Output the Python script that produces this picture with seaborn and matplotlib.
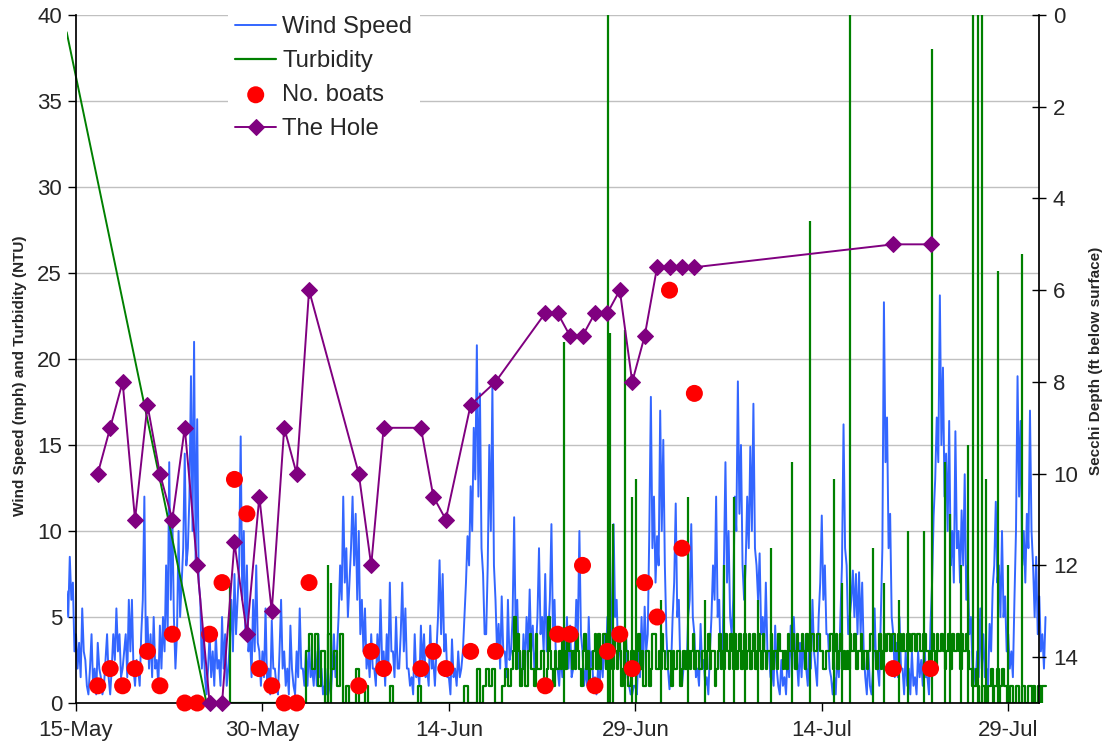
import pandas as pd
import matplotlib
matplotlib.use("Agg")
import matplotlib.pyplot as plt
import matplotlib.dates as mdates
import seaborn as sns

# sampling days at the hole (boat counts + Secchi depth), read around 6 pm
sample_dates = ['2008-05-16', '2008-05-17', '2008-05-18', '2008-05-19', '2008-05-20', '2008-05-21',
                '2008-05-22', '2008-05-23', '2008-05-24', '2008-05-25', '2008-05-26', '2008-05-27',
                '2008-05-28', '2008-05-29', '2008-05-30', '2008-05-31', '2008-06-01', '2008-06-02',
                '2008-06-06', '2008-06-07', '2008-06-08', '2008-06-11', '2008-06-12', '2008-06-13',
                '2008-06-15', '2008-06-17', '2008-06-21', '2008-06-22', '2008-06-23', '2008-06-24',
                '2008-06-25', '2008-06-26', '2008-06-27', '2008-06-28', '2008-06-29', '2008-06-30',
                '2008-07-01', '2008-07-02', '2008-07-03', '2008-07-19', '2008-07-22']
boats = [1, 2, 1, 2, 3, 1, 4, 0, 0, 4, 7, 13, 11, 2, 1, 0, 0, 7,
         1, 3, 2, 2, 3, 2, 3, 3, 1, 4, 4, 8, 1, 3, 4, 2, 7, 5, 24, 9, 18, 2, 2]
hole_depth = [10, 9, 8, 11, 8.5, 10, 11, 9, 12, 15, 15, 11.5, 13.5, 10.5, 13, 9, 10, 6,
              10, 12, 9, 9, 10.5, 11, 8.5, 8, 6.5, 6.5, 7, 7, 6.5, 6.5, 6, 8, 7, 5.5, 5.5, 5.5, 5.5, 5, 5]

# wind speed (mph), every 3 h from 14-May 06:00 (one row per day)
wind_mph = [
    6.5, 5, 8.5, 6, 7, 3,
    4, 2, 3.5, 1.5, 5.5, 3, 2.5, 1,
    0.5, 2, 4, 1, 2, 0.5, 3.5, 2,
    1.5, 0.5, 1, 2.5, 4, 1.5, 0.5, 2,
    4, 2.5, 5.5, 3, 4, 1.5, 2, 3,
    4, 1.5, 6, 3, 6, 2, 1, 2.5,
    2, 1, 4, 6, 12, 3, 5, 2,
    4, 1.5, 5, 2, 2.5, 1, 4.5, 2,
    5, 3, 8, 4, 14, 6, 11, 5,
    2, 4, 10, 5, 7, 9, 14.5, 8,
    9, 12, 19, 10, 21, 8, 16.5, 7,
    6, 2, 4, 1.5, 0.5, 2, 4, 1.5,
    3, 1, 4, 2, 2.5, 1, 5, 2,
    4, 1, 2, 3.5, 6, 3, 7.5, 4,
    6, 8, 15.5, 6, 10, 4, 8, 3,
    4, 1.5, 6, 3, 8, 3.5, 3, 1,
    3, 1.5, 5.5, 1, 2, 0.5, 4.8, 2,
    2, 1, 0.5, 3, 6, 2, 3, 1,
    2, 0.5, 4.5, 2, 1, 0.5, 3, 1.5,
    5.5, 2, 2, 1, 3, 1, 3.5, 1.5,
    2, 1, 3, 1, 4, 1.5, 2, 0.5,
    1, 0.5, 2, 1, 0.5, 2, 4, 1.5,
    3, 5, 8, 6, 12, 7, 9, 5,
    7, 9, 12, 8, 11, 6, 10, 4,
    6, 3, 5.5, 2, 3, 1.5, 4, 2,
    2, 1, 4, 2, 6, 2.5, 3, 1,
    4, 2, 7, 3, 3, 1.5, 5, 2,
    2, 4, 7, 3, 5.5, 2, 2, 1,
    1.5, 0.5, 4, 1.5, 2, 1, 4.5, 2,
    4, 1.5, 2, 1, 4.5, 2, 2.5, 1,
    3, 5, 8.3, 4, 7.5, 3, 4, 1.5,
    1.5, 0.5, 3.7, 1.5, 2, 1, 3, 1.5,
    2, 3, 5, 7, 9.7, 8, 12.6, 10,
    16, 13, 20.8, 12, 18, 9, 7.5, 4,
    4, 8, 15, 10, 18.4, 8, 6, 3,
    4.6, 2, 6.2, 3, 3, 1.5, 6, 2.5,
    3, 5, 10.8, 4, 6, 2, 2, 1,
    4, 2, 5, 3, 6.6, 3, 4.5, 2,
    3, 5, 9, 4, 5, 3, 7.5, 3,
    4, 6, 10.4, 4, 6, 2, 2, 1,
    3, 1.5, 4, 2, 5, 2, 4.5, 1.5,
    2, 3, 6, 4, 10, 4, 3, 1,
    2, 1, 5, 2, 3, 1, 1.5, 0.5,
    2, 1, 3, 1.5, 4, 2, 5, 2,
    3, 6, 10.4, 5, 6, 2.5, 4, 1.5,
    2, 1, 4, 1.5, 1, 0.5, 0.5, 1,
    1, 0.5, 3, 1.5, 5, 2, 5.6, 3,
    4, 10, 17.8, 9, 12, 7, 9.7, 8,
    17, 10, 15.3, 8, 4, 2, 0.8, 2,
    5, 7, 11.6, 5, 6, 2, 1, 2,
    3, 2, 5, 6, 10.4, 5, 4, 1.5,
    2, 1, 4.6, 2, 2.5, 1, 1.5, 0.5,
    3, 5, 8, 6, 12, 5, 6, 2,
    2, 8, 14, 7, 10, 5, 4, 6,
    12, 10, 18.7, 11, 15, 8, 6, 8,
    12, 9, 14.9, 10, 17.4, 9, 8, 6,
    8.7, 4, 5, 3, 7, 3, 3, 1.5,
    2, 1, 4.5, 2, 1, 0.5, 2.5, 1,
    1.5, 0.5, 3, 1.5, 4.5, 2, 5, 2.5,
    2.5, 1, 3.5, 1.5, 4, 2, 2, 1,
    4, 2, 6, 3, 2, 1, 5, 7,
    10.9, 6, 8, 4, 4, 2, 1.5, 0.5,
    1.5, 0.5, 3, 1.5, 5, 8, 16.2, 9,
    8, 4, 5, 6, 7.7, 5, 7.5, 4,
    7.6, 4, 7, 3, 1.5, 0.5, 3, 1,
    0.5, 2, 5.5, 2, 2, 1, 5, 9,
    23.3, 14, 16.6, 9, 11, 5, 4, 1.5,
    3.5, 1.5, 5, 2, 2, 0.5, 3, 1,
    2, 0.5, 3, 1, 1.5, 0.5, 3, 1.5,
    2.5, 1, 4, 1.5, 1.5, 0.5, 4.6, 7,
    10.9, 13, 16.6, 14, 23.7, 15, 19.5, 12,
    14.5, 10, 16.4, 8, 10, 7, 15.8, 9,
    10, 7, 11.2, 8, 13.3, 6, 8, 4,
    5, 2, 2, 1, 3, 1.5, 5.5, 2,
    4, 1.5, 2, 1, 4.6, 3, 6.7, 8,
    11.7, 7, 8, 5, 10, 5, 6.2, 3,
    4, 2, 3, 1.5, 6, 10, 19, 12,
    16.4, 8, 10, 7, 11, 9, 17, 10,
    8, 5, 8.5, 4, 6.2, 3, 4, 2,
    5]

# turbidity (NTU): first reading, then the logger
turb_first = [39, 0]
# every 6 h from 25-May 12:00 to 18-Jun 18:00
turb_early = [
    0, 0,
    0, 0, 0, 0,  0, 0, 0, 0,  0, 0, 0, 0,  0, 0, 0, 0,  0, 0, 0, 0,  0, 0, 0, 0,  0, 0, 0, 0,
    0, 0, 3, 4,  2, 4, 1, 3,  0, 4, 2, 3,  1, 4, 0, 1,  0, 0, 2, 0,  0, 1, 0, 0,
    0, 0, 0, 0,  0, 1, 0, 0,  0, 0, 0, 0,  0, 0, 1, 0,  0, 0, 0, 0,  0, 0, 0, 0,
    0, 0, 0, 0,  0, 1, 0, 0,  0, 2, 0, 1,  2, 1, 2, 0,  0, 1, 2, 1]
# every 3 h from 19-Jun 00:00 (one row per day)
turb_late = [
    2, 3, 5, 2, 4, 3, 1, 2,
    3, 1, 1, 3, 4, 2, 2, 1,
    4, 2, 2, 3, 3, 1, 1, 2,
    5, 3, 2, 1, 3, 2, 2, 3,
    2, 4, 3, 2, 4, 3, 3, 2,
    3, 2, 4, 3, 2, 1, 3, 4,
    2, 3, 1, 2, 2, 3, 4, 2,
    4, 2, 3, 4, 4, 2, 3, 4,
    3, 2, 4, 3, 2, 4, 3, 1,
    2, 4, 3, 1, 1, 3, 3, 2,
    2, 3, 4, 2, 3, 1, 1, 3,
    3, 1, 2, 4, 4, 2, 2, 3,
    2, 4, 3, 2, 2, 3, 3, 1,
    3, 2, 2, 3, 3, 1, 2, 3,
    2, 3, 3, 2, 3, 4, 2, 3,
    3, 2, 2, 3, 3, 2, 3, 4,
    2, 3, 3, 1, 2, 3, 4, 2,
    3, 2, 4, 3, 2, 4, 3, 2,
    4, 2, 3, 4, 2, 3, 4, 2,
    3, 4, 2, 3, 4, 2, 3, 4,
    3, 2, 4, 3, 2, 3, 3, 4,
    2, 3, 3, 2, 4, 3, 3, 2,
    3, 2, 4, 3, 3, 4, 3, 2,
    4, 3, 3, 4, 3, 2, 4, 3,
    3, 4, 4, 3, 3, 4, 4, 3,
    3, 2, 2, 3, 3, 4, 4, 2,
    3, 4, 2, 3, 4, 2, 3, 2,
    3, 2, 4, 3, 3, 4, 2, 3,
    3, 4, 2, 3, 3, 2, 3, 4,
    4, 3, 3, 2, 3, 4, 2, 3,
    4, 3, 4, 4, 3, 4, 4, 3,
    3, 4, 4, 3, 4, 3, 3, 4,
    4, 3, 4, 4, 3, 4, 4, 3,
    3, 4, 4, 3, 3, 2, 3, 4,
    3, 2, 4, 3, 3, 4, 3, 2,
    3, 4, 3, 2, 4, 3, 3, 4,
    3, 2, 4, 3, 3, 4, 3, 2,
    2, 1, 1, 2, 1, 0, 0, 1,
    1, 0, 0, 1, 1, 2, 0, 1,
    1, 2, 0, 1, 2, 1, 1, 0,
    0, 1, 1, 0, 0, 1, 1, 0,
    0, 1, 1, 0, 0, 1, 1, 0,
    1, 0, 0, 1, 1, 0, 1, 1,
    1]
# short turbidity spikes (days after 15-May, NTU)
spike_day = [12.4, 20.3, 20.5, 39.26, 42.8, 42.95, 43.2, 44.2, 44.7, 45.05, 47.1, 49.2, 50.6,
             52.1, 52.9, 53.8, 54.9, 55.9, 57.6, 59.05, 60.95, 61.6, 62.27, 64.1, 65.0, 66.2,
             66.9, 68.2, 68.87, 69.9, 70.3, 71.2, 71.8, 72.16, 72.57, 72.89, 73.2, 74.18, 75.0, 76.1]
spike_ntu = [7, 8, 7, 21, 42, 21.5, 10.4, 21.7, 12, 13, 6, 12, 6,
             8, 12, 8, 6, 9, 14, 28, 13, 7, 45, 9, 7, 6,
             10, 10, 38, 14, 11, 8, 15, 45, 45, 45, 13, 25.1, 8, 26.1]

t0 = pd.Timestamp('2008-05-15')
day = pd.Timedelta(days=1)
wind = pd.DataFrame({'time': pd.date_range('2008-05-14 06:00', periods=len(wind_mph), freq='3h'),
                     'mph': wind_mph})
turb = pd.concat([
    pd.DataFrame({'time': pd.date_range('2008-05-25 12:00', periods=len(turb_early), freq='6h'),
                  'ntu': turb_early}),
    pd.DataFrame({'time': pd.date_range('2008-06-19 00:00', periods=len(turb_late), freq='3h'),
                  'ntu': turb_late})], ignore_index=True)
turb0 = pd.DataFrame({'time': [pd.Timestamp('2008-05-14 06:00'), pd.Timestamp('2008-05-25 12:00')],
                      'ntu': turb_first})
samples = pd.DataFrame({'time': pd.to_datetime(sample_dates) + pd.Timedelta(hours=18),
                        'boats': boats, 'hole': hole_depth})
spike_time = t0 + pd.to_timedelta(spike_day, unit='D')

sns.set_theme(style="white")
plt.rcParams['font.family'] = ['Liberation Sans', 'DejaVu Sans']

fig = plt.figure(figsize=(11.05, 7.46), dpi=100)
ax = fig.add_axes([66.5 / 1105, 1 - 703 / 746, 980.5 / 1105, 688 / 746])
x_lo, x_hi = t0 - 0.764 * day, t0 + 78.12 * day
x_end = t0 + 77.47 * day

ax.hlines(range(5, 45, 5), t0, x_end, color='#c0c0c0', lw=1, zorder=0)

blue, green = '#3366ff', '#008000'
sns.lineplot(data=wind, x='time', y='mph', ax=ax, color=blue, lw=1.4, label='Wind Speed')
sns.lineplot(data=turb0, x='time', y='ntu', ax=ax, color=green, lw=1.4)
sns.lineplot(data=turb, x='time', y='ntu', ax=ax, color=green, lw=1.6,
             drawstyle='steps-post', label='Turbidity')
ax.vlines(spike_time, 0, spike_ntu, color=green, lw=1.6)
sns.scatterplot(data=samples, x='time', y='boats', ax=ax, color='#ff0000', s=150,
                edgecolor='none', label='No. boats', zorder=5, clip_on=False)

ax.set_xlim(x_lo, x_hi)
ax.set_ylim(0, 40)
ax.set_yticks(range(0, 45, 5))
ax.set_xticks([t0 + 15 * k * day for k in range(6)])
ax.xaxis.set_major_formatter(mdates.DateFormatter('%d-%b'))
ax.set_xlabel('')
ax.set_ylabel('Wind Speed (mph) and Turbidity (NTU)', fontsize=11, fontweight='bold')
ax.yaxis.set_label_coords(-0.0405, 0.475)
for s in ['top', 'right']:
    ax.spines[s].set_visible(False)
ax.spines['left'].set_position(('data', mdates.date2num(t0)))
ax.spines['bottom'].set_bounds(mdates.date2num(t0), mdates.date2num(x_end))
for s in ['left', 'bottom']:
    ax.spines[s].set_color('black')
ax.tick_params(axis='y', left=True, direction='out', length=6, width=1, pad=4, labelsize=16, color='black')
ax.tick_params(axis='x', bottom=True, direction='out', length=6, width=1, pad=6, labelsize=16, color='black')

ax2 = ax.twinx()
sns.lineplot(data=samples, x='time', y='hole', ax=ax2, color='#800080', lw=1.4, marker='D',
             markersize=8, markeredgecolor='#800080', label='The Hole', clip_on=False)
ax2.set_ylim(15, 0)
ax2.set_yticks(range(0, 16, 2))
ax2.set_ylabel('Secchi Depth (ft below surface)', fontsize=11, fontweight='bold')
ax2.yaxis.set_label_coords(1.043, 0.497)
for s in ['top', 'left', 'bottom']:
    ax2.spines[s].set_visible(False)
ax2.spines['right'].set_position(('data', mdates.date2num(x_end)))
ax2.spines['right'].set_color('black')
ax2.tick_params(axis='y', right=True, direction='inout', length=10, width=1, pad=5, labelsize=16, color='black')
ax2.set_xlim(x_lo, x_hi)

h1, l1 = ax.get_legend_handles_labels()
h2, l2 = ax2.get_legend_handles_labels()
ax.get_legend().remove()
ax2.get_legend().remove()
leg = ax2.legend(h1 + h2, l1 + l2, loc='upper left', bbox_to_anchor=(228 / 1105, 1 - 9 / 746),
                 bbox_transform=fig.transFigure, fontsize=17.2, frameon=True, facecolor='white',
                 edgecolor='none', framealpha=1, fancybox=False, borderpad=0.3, labelspacing=0.5,
                 handlelength=1.72, handletextpad=0.26, borderaxespad=0)

fig.savefig('out.png', dpi=100)
